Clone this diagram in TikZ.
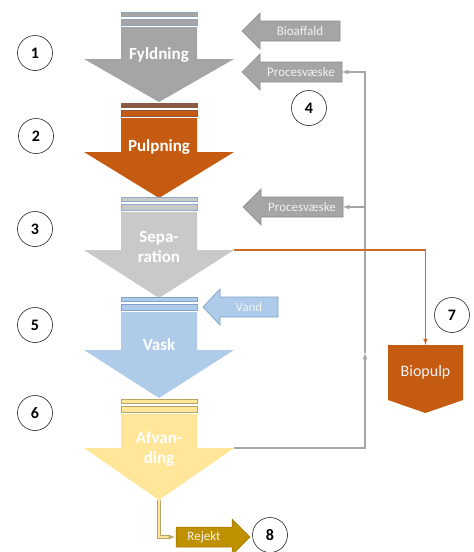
\documentclass[tikz,border=0pt]{standalone}
\usepackage{fontspec}
\setmainfont{Carlito}
\usetikzlibrary{arrows,calc}

\definecolor{fyldgray}{HTML}{A5A5A5}
\definecolor{fyldedge}{HTML}{8FA3B8}
\definecolor{pulporange}{HTML}{C55A11}
\definecolor{pulpedge}{HTML}{8A5A42}
\definecolor{sepgray}{HTML}{C9C9C9}
\definecolor{sepedge}{HTML}{8FAACC}
\definecolor{vaskblue}{HTML}{AECCEA}
\definecolor{vaskedge}{HTML}{7FA3C8}
\definecolor{afvyellow}{HTML}{FFE699}
\definecolor{afvedge}{HTML}{B8A566}
\definecolor{rejektgold}{HTML}{BF9000}
\definecolor{linegray}{HTML}{A6A6A6}
\definecolor{feededge}{HTML}{8C8C8C}
\definecolor{textlight}{HTML}{F2F2F2}

% one process step: two bars and a wide down arrow
\newcommand{\STAGE}[7]{% name, bar top, head base, tip, colour, bar edge, thin bar
  \draw[bar,draw=#6,fill=#7] (121,#2) rectangle (197,#2+4.5);
  \draw[bar,draw=#6,fill=#5] (121,#2+7) rectangle (197,#2+13.5);
  \fill[#5] (121,#2+15) -- (197,#2+15) -- (197,#3) -- (234,#3) -- (159,#4)
    -- (84,#3) -- (121,#3) -- cycle;
  \coordinate (#1 right) at (234,#3);
  \coordinate (#1 tip) at (159,#4);
}
% an input arrow pointing left
\newcommand{\FEED}[8]{% name, tip x, head x, end x, y, fill, edge, text
  \draw[draw=#7,line width=0.7pt,fill=#6] (#2,#5) -- (#3,#5-18) -- (#3,#5-10)
    -- (#4,#5-10) -- (#4,#5+10) -- (#3,#5+10) -- (#3,#5+18) -- cycle;
  \coordinate (#1 end) at (#4,#5);
  \node[feedtext] (#1) at ($(#3,#5)!0.5!(#4,#5)$) {#8};
}

\tikzset{
  bar/.style={line width=0.7pt},
  stagetext/.style={text=white,align=center,
    font=\fontsize{17}{20}\selectfont\bfseries},
  feedtext/.style={text=textlight,font=\fontsize{13}{15}\selectfont},
  stepnum/.style={draw=black,circle,minimum size=35pt,inner sep=0pt,
    line width=0.5pt,font=\fontsize{16}{16}\selectfont\bfseries},
  flowline/.style={draw=linegray,line width=1.2pt},
  pulpline/.style={draw=pulporange!90!white,line width=1.1pt},
  rejline/.style={draw=afvedge,double=afvyellow,double distance=2.4pt,
    line width=0.6pt},
}

\begin{document}
\begin{tikzpicture}[x=1pt,y=-1pt]
    \useasboundingbox[fill=white] (0,0) rectangle (474,552);

    % process column
    \STAGE{fyld}{12}{59}{102}{fyldgray}{fyldedge}{fyldgray}
    \STAGE{pulp}{103}{152}{198}{pulporange}{pulpedge}{pulpedge}
    \STAGE{sep}{197}{250}{298}{sepgray}{sepedge}{sepgray}
    \STAGE{vask}{297}{350}{398}{vaskblue}{vaskedge}{vaskblue}
    \STAGE{afv}{399}{448}{500}{afvyellow}{afvedge}{afvyellow}

    \node[stagetext] (fyldning) at (159,55) {Fyldning};
    \node[stagetext] (pulpning) at (159,147) {Pulpning};
    \node[stagetext] (separation) at (159,247) {Sepa-\\ration};
    \node[stagetext] (vaskning) at (159,345) {Vask};
    \node[stagetext] (afvanding) at (159,449) {Afvan-\\ding};

    % inputs
    \FEED{bio}{242}{260}{340}{31}{fyldgray}{feededge}{Bioaffald}
    \FEED{pv1}{242}{260}{342}{72}{fyldgray}{feededge}{Procesvæske}
    \FEED{pv2}{243}{261}{343}{207}{fyldgray}{feededge}{Procesvæske}
    \FEED{vand}{203}{220}{278}{307}{vaskblue}{vaskedge}{Vand}

    % biopulp
    \fill[pulporange] (388,345) -- (463,345) -- (463,400) -- (425.5,413)
      -- (388,400) -- cycle;
    \coordinate (bp top) at (425.5,345);
    \node[text=textlight,font=\fontsize{16}{18}\selectfont] (biopulp)
      at (425.5,372) {Biopulp};

    % rejekt
    \draw[draw=rejektgold!80!black,line width=0.5pt,fill=rejektgold]
      (176,527) -- (232,527) -- (232,519) -- (250,537) -- (232,555)
      -- (232,547) -- (176,547) -- cycle;
    \coordinate (rej start) at (175,537);
    \node[feedtext] (rejekt) at (204,537) {Rejekt};

    % connectors
    \coordinate (riser) at (365,353);
    \draw[flowline,-latex] (afv right) -| (riser);
    \draw[flowline,-latex] (riser) |- (pv1 end);
    \draw[flowline,-latex] (riser |- pv2 end) -- (pv2 end);
    \draw[pulpline,-latex] (sep right) -| (bp top);
    \draw[rejline,-latex] (afv tip) |- (rej start);

    % step numbers
    \node[stepnum] (n1) at (35,53) {1};
    \node[stepnum] (n2) at (36,136) {2};
    \node[stepnum] (n3) at (35,229) {3};
    \node[stepnum] (n4) at (309,108) {4};
    \node[stepnum] (n5) at (35,325) {5};
    \node[stepnum] (n6) at (35,413) {6};
    \node[stepnum] (n7) at (452,315) {7};
    \node[stepnum] (n8) at (270,535) {8};
\end{tikzpicture}
\end{document}
